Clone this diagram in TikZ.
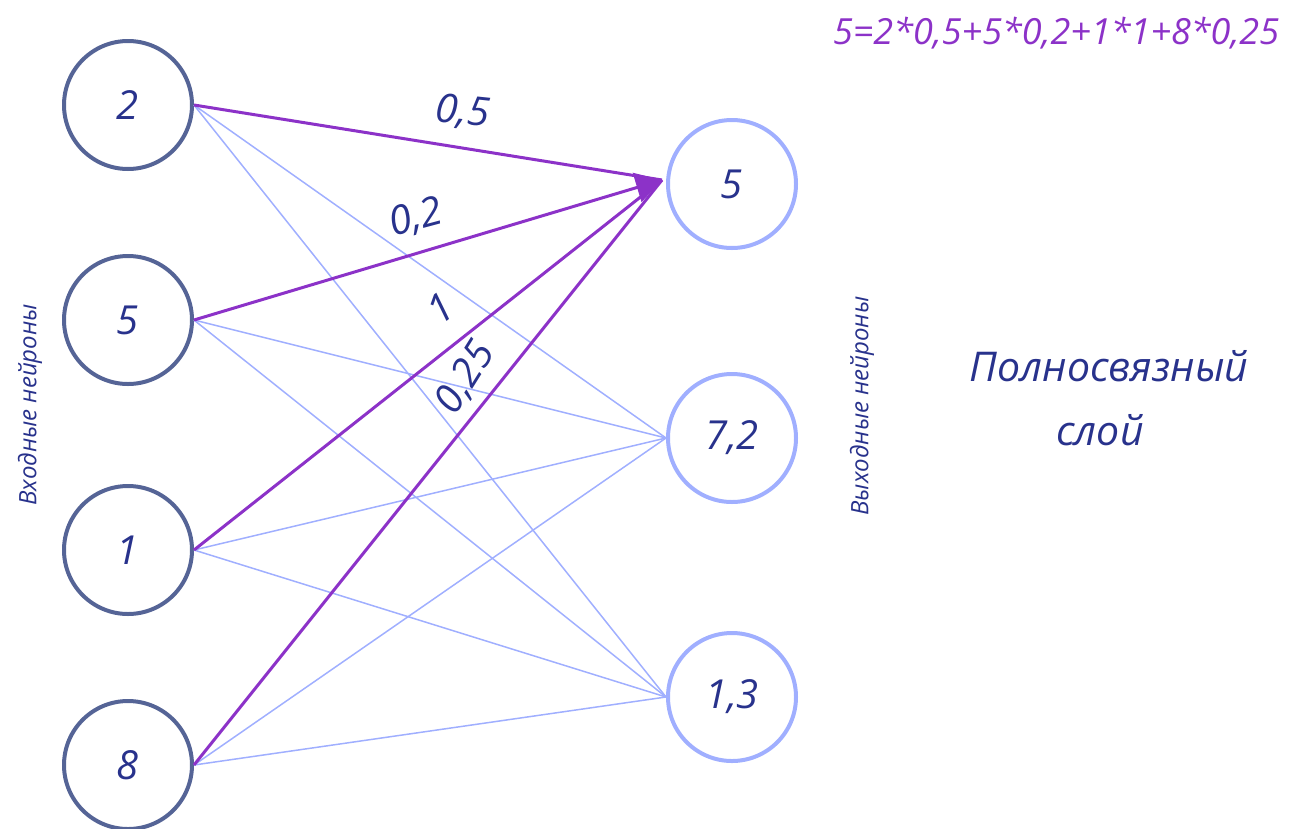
\documentclass[tikz,border=0pt]{standalone}
\usepackage{fontspec}
\setmainfont{Open Sans}
\usetikzlibrary{arrows.meta}
\definecolor{pur}{RGB}{140,50,200}
\definecolor{navy}{RGB}{40,50,140}
\definecolor{incol}{RGB}{85,100,150}
\definecolor{outcol}{RGB}{160,175,255}
\tikzset{
  neuronin/.style={circle,draw=incol,line width=4pt,minimum size=128pt,inner sep=0pt,text=navy,font=\fontsize{40}{44}\selectfont\itshape},
  neuronout/.style={circle,draw=outcol,line width=4pt,minimum size=128pt,inner sep=0pt,text=navy,font=\fontsize{40}{44}\selectfont\itshape},
  thin/.style={draw=outcol,line width=1.5pt},
  strong/.style={draw=pur,line width=3pt},
  wlabel/.style={text=navy,font=\fontsize{40}{44}\selectfont\itshape,inner sep=0pt},
  side/.style={text=navy,font=\fontsize{24}{28}\selectfont\itshape,rotate=90,inner sep=0pt},
}
\begin{document}
\begin{tikzpicture}[x=1pt,y=-1pt]
\useasboundingbox (0,0) rectangle (1311,828);
\node[neuronin] (i1) at (128,105) {2};
\node[neuronin] (i2) at (128,320) {5};
\node[neuronin] (i3) at (128,550) {1};
\node[neuronin] (i4) at (128,765) {8};
\node[neuronout] (o1) at (732,184) {5};
\node[neuronout] (o2) at (732,438) {7,2};
\node[neuronout] (o3) at (732,697) {1,3};
\coordinate (p1) at (662,180);
\foreach \i in {1,2,3,4}{
  \draw[thin] (i\i.east) -- (o2.west);
  \draw[thin] (i\i.east) -- (o3.west);
}
\draw[strong] (i1.east) -- (p1);
\draw[strong] (i3.east) -- (p1);
\draw[strong] (i4.east) -- (p1);
\draw[strong,-{Triangle[length=26pt,width=30pt]}] (i2.east) -- (p1);
\node[wlabel,rotate=-6] (w1) at (463,112) {0,5};
\node[wlabel,rotate=15] (w2) at (416,218) {0,2};
\node[wlabel,rotate=38] (w3) at (440,308) {1};
\node[wlabel,rotate=58] (w4) at (466,378) {0,25};
\node[text=pur,font=\fontsize{36}{40}\selectfont\itshape,inner sep=0pt] (f) at (1056,33) {5=2*0,5+5*0,2+1*1+8*0,25};
\node[text=navy,font=\fontsize{41}{45}\selectfont\itshape,inner sep=0pt] (t1) at (1109,366) {Полносвязный};
\node[text=navy,font=\fontsize{41}{45}\selectfont\itshape,inner sep=0pt] (t2) at (1100,430) {слой};
\node[side] (s1) at (30,405) {Входные нейроны};
\node[side] (s2) at (862,406) {Выходные нейроны};
\end{tikzpicture}
\end{document}
